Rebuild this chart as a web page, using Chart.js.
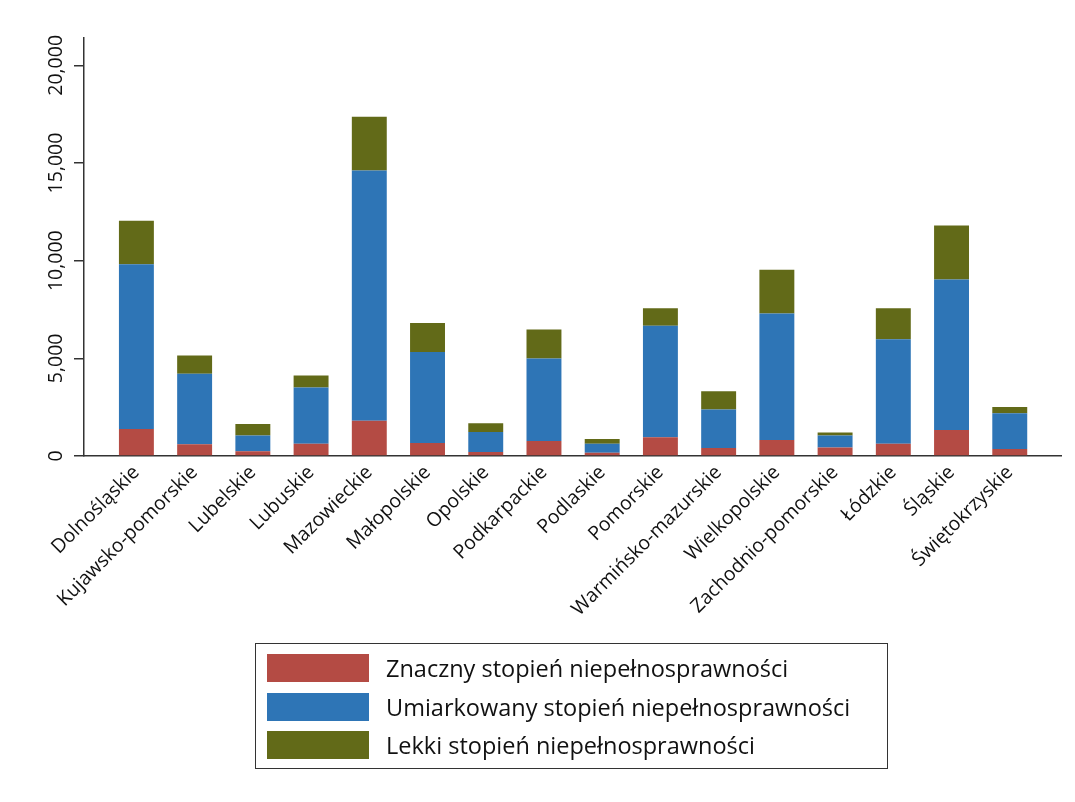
<!DOCTYPE html>
<html>
<head>
<meta charset="utf-8">
<script src="https://cdn.jsdelivr.net/npm/chart.js@4"></script>
<style>
    html, body { margin: 0; padding: 0; background: #fff; }
    #wrap { position: relative; width: 1075px; height: 802px; }
    #legend {
        position: absolute; left: 255px; top: 643px; width: 633px; height: 126px;
        border: 1.5px solid #333; box-sizing: border-box;
        font-family: 'Open Sans', sans-serif; font-size: 23.5px; color: #111;
    }
    #legend .row { position: absolute; left: 11px; height: 28px; display: flex; align-items: center; }
    #legend .sw { width: 102px; height: 28px; margin-right: 17px; }
</style>
</head>
<body>
<div id="wrap">
    <canvas id="chart" width="1075" height="802"></canvas>
    <div id="legend"></div>
</div>
<script>
'use strict';

// województwa
const regions = [
    'Dolnośląskie', 'Kujawsko-pomorskie', 'Lubelskie', 'Lubuskie',
    'Mazowieckie', 'Małopolskie', 'Opolskie', 'Podkarpackie',
    'Podlaskie', 'Pomorskie', 'Warmińsko-mazurskie', 'Wielkopolskie',
    'Zachodnio-pomorskie', 'Łódzkie', 'Śląskie', 'Świętokrzyskie'
];
// stopnie niepełnosprawności
const znaczny = [1380, 600, 240, 630, 1800, 670, 210, 770, 170, 960, 410, 820, 430, 630, 1330, 360];
const umiarkowany = [8440, 3610, 810, 2880, 12820, 4660, 1020, 4220, 460, 5710, 1970, 6480, 620, 5350, 7700, 1830];
const lekki = [2230, 940, 590, 610, 2750, 1480, 450, 1490, 240, 900, 940, 2240, 150, 1590, 2770, 320];
const yTicks = [0, 5000, 10000, 15000, 20000];

const seriesNames = [
    'Znaczny stopień niepełnosprawności',
    'Umiarkowany stopień niepełnosprawności',
    'Lekki stopień niepełnosprawności'
];
const seriesColors = ['#B44B44', '#2E75B6', '#626A18'];
const seriesData = [znaczny, umiarkowany, lekki];

const font = { family: "'Open Sans', sans-serif", size: 19.5 };

let datasets = seriesData.map((vals, s) => ({
    label: seriesNames[s],
    data: vals.map((v, i) => ({ x: i, y: v })),
    backgroundColor: seriesColors[s],
    borderWidth: 0,
    barPercentage: 0.6,
    categoryPercentage: 1,
}));

let ctx = document.getElementById('chart').getContext('2d');
let chart = new Chart(ctx, {
    type: 'bar',
    data: { datasets },
    options: {
        responsive: false,
        animation: false,
        layout: { padding: { top: 38, right: 14, left: 0, bottom: 0 } },
        plugins: { legend: { display: false }, tooltip: { enabled: false } },
        scales: {
            x: {
                type: 'linear',
                stacked: true,
                offset: false,
                min: -0.9,
                max: 15.88,
                grid: { display: false, drawTicks: false, offset: false },
                border: { color: '#333', width: 1.5 },
                afterBuildTicks: (scale) => {
                    scale.ticks = regions.map((r, i) => ({ value: i }));
                },
                afterFit: (scale) => { scale.height = 346; },
                ticks: {
                    autoSkip: false,
                    minRotation: 45,
                    maxRotation: 45,
                    padding: 5,
                    color: '#111',
                    font: font,
                    callback: (v) => regions[v],
                },
            },
            y: {
                stacked: true,
                min: 0,
                max: 21400,
                grid: { drawOnChartArea: false, drawTicks: true, tickLength: 10, color: '#333', lineWidth: 1.5 },
                border: { color: '#333', width: 1.5 },
                afterBuildTicks: (scale) => {
                    scale.ticks = yTicks.map((v) => ({ value: v }));
                },
                afterFit: (scale) => { scale.width = 84; },
                ticks: {
                    minRotation: 90,
                    maxRotation: 90,
                    crossAlign: 'center',
                    padding: -13,
                    color: '#111',
                    font: font,
                    callback: (v) => v.toLocaleString('en-US'),
                },
            },
        },
    },
});

// legenda w ramce pod wykresem
let legend = document.getElementById('legend');
seriesNames.forEach((name, s) => {
    let row = document.createElement('div');
    row.className = 'row';
    row.style.top = (10 + s * 38.7) + 'px';
    let sw = document.createElement('div');
    sw.className = 'sw';
    sw.style.background = seriesColors[s];
    let txt = document.createElement('span');
    txt.textContent = name;
    row.appendChild(sw);
    row.appendChild(txt);
    legend.appendChild(row);
});
</script>
</body>
</html>
